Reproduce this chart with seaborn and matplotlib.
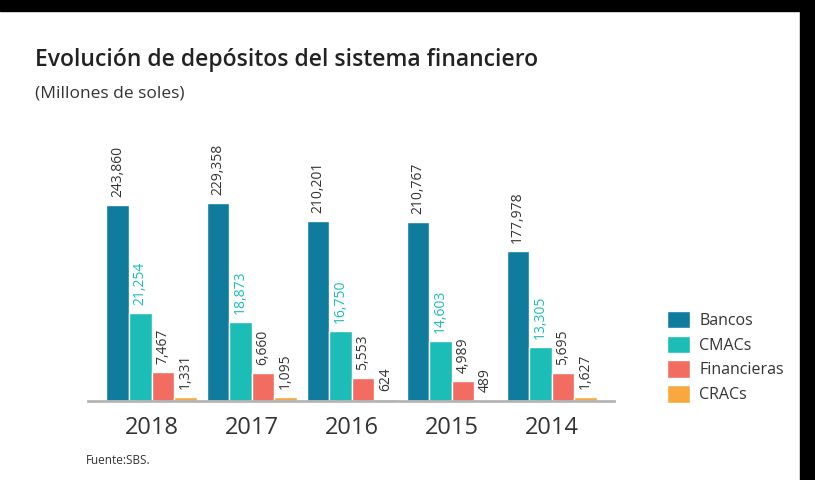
import pandas as pd
import matplotlib
matplotlib.use("Agg")
import matplotlib.pyplot as plt
from matplotlib.patches import Rectangle
import seaborn as sns

# Datos (millones de soles) - fuente SBS
anios = ['2018', '2017', '2016', '2015', '2014']
entidades = ['Bancos', 'CMACs', 'Financieras', 'CRACs']
bancos = [243860, 229358, 210201, 210767, 177978]
cmacs = [21254, 18873, 16750, 14603, 13305]
financieras = [7467, 6660, 5553, 4989, 5695]
cracs = [1331, 1095, 624, 489, 1627]

# the original chart is not drawn to scale: bar heights
alt_bancos = [196, 198, 180, 179, 150]
alt_cmacs = [88, 79, 70, 60, 54]
alt_financieras = [29, 28, 23, 20, 28]
alt_cracs = [4, 4, 2, 1, 4]

colores = ['#0f7c9e', '#1bbdb6', '#f26c62', '#f8a83e']

valores = [bancos, cmacs, financieras, cracs]
alturas = [alt_bancos, alt_cmacs, alt_financieras, alt_cracs]

rows = []
for ent, vals, alts in zip(entidades, valores, alturas):
    for a, v, h in zip(anios, vals, alts):
        rows.append({'anio': a, 'entidad': ent, 'valor': v, 'altura': h})
df = pd.DataFrame(rows)

sns.set_style('white')
plt.rcParams['font.family'] = ['Open Sans', 'DejaVu Sans']

fig = plt.figure(figsize=(8.15, 4.8), dpi=100)
ax = fig.add_axes([88 / 815, 79 / 480, 526 / 815, 250 / 480])

sns.barplot(data=df, x='anio', y='altura', hue='entidad', palette=colores,
            width=0.9, saturation=1, ax=ax, legend=True)

# value labels, rotated
for cont, vals, ent in zip(ax.containers, valores, entidades):
    col = '#1bbdb6' if ent == 'CMACs' else '#333333'
    ax.bar_label(cont, labels=[f'{v:,}' for v in vals], rotation=90,
                 padding=6, fontsize=10, color=col)

ax.set_xlim(-0.635, 4.625)
ax.set_ylim(0, 250)
ax.set_xlabel('')
ax.set_ylabel('')
ax.set_yticks([])
for s in ['top', 'left', 'right']:
    ax.spines[s].set_visible(False)
ax.spines['bottom'].set_color('#b5b5b5')
ax.spines['bottom'].set_linewidth(2)
ax.tick_params(axis='x', length=0, pad=11, labelsize=17, labelcolor='#333333')

ax.legend(loc='center left', bbox_to_anchor=(653 / 815, 1 - 357 / 480),
          bbox_transform=fig.transFigure, frameon=False, fontsize=11.5,
          handlelength=1.4, handleheight=1.3, labelspacing=0.42,
          handletextpad=0.6, labelcolor='#333333')

fig.text(35 / 815, 1 - 60 / 480, 'Evolución de depósitos del sistema financiero',
         fontsize=16.5, fontweight='semibold', color='#222222', va='center')
fig.text(35 / 815, 1 - 93 / 480, '(Millones de soles)',
         fontsize=12.5, color='#333333', va='center')
fig.text(86 / 815, 1 - 461 / 480, 'Fuente:SBS.', fontsize=8.5,
         color='#333333', va='center')

# black frame of the screenshot (top and right)
fig.patches.append(Rectangle((0, 1 - 11 / 480), 1, 11 / 480, transform=fig.transFigure,
                             color='black', zorder=10))
fig.patches.append(Rectangle((800 / 815, 0), 15 / 815, 1, transform=fig.transFigure,
                             color='black', zorder=10))

fig.savefig('out.png', dpi=100)
